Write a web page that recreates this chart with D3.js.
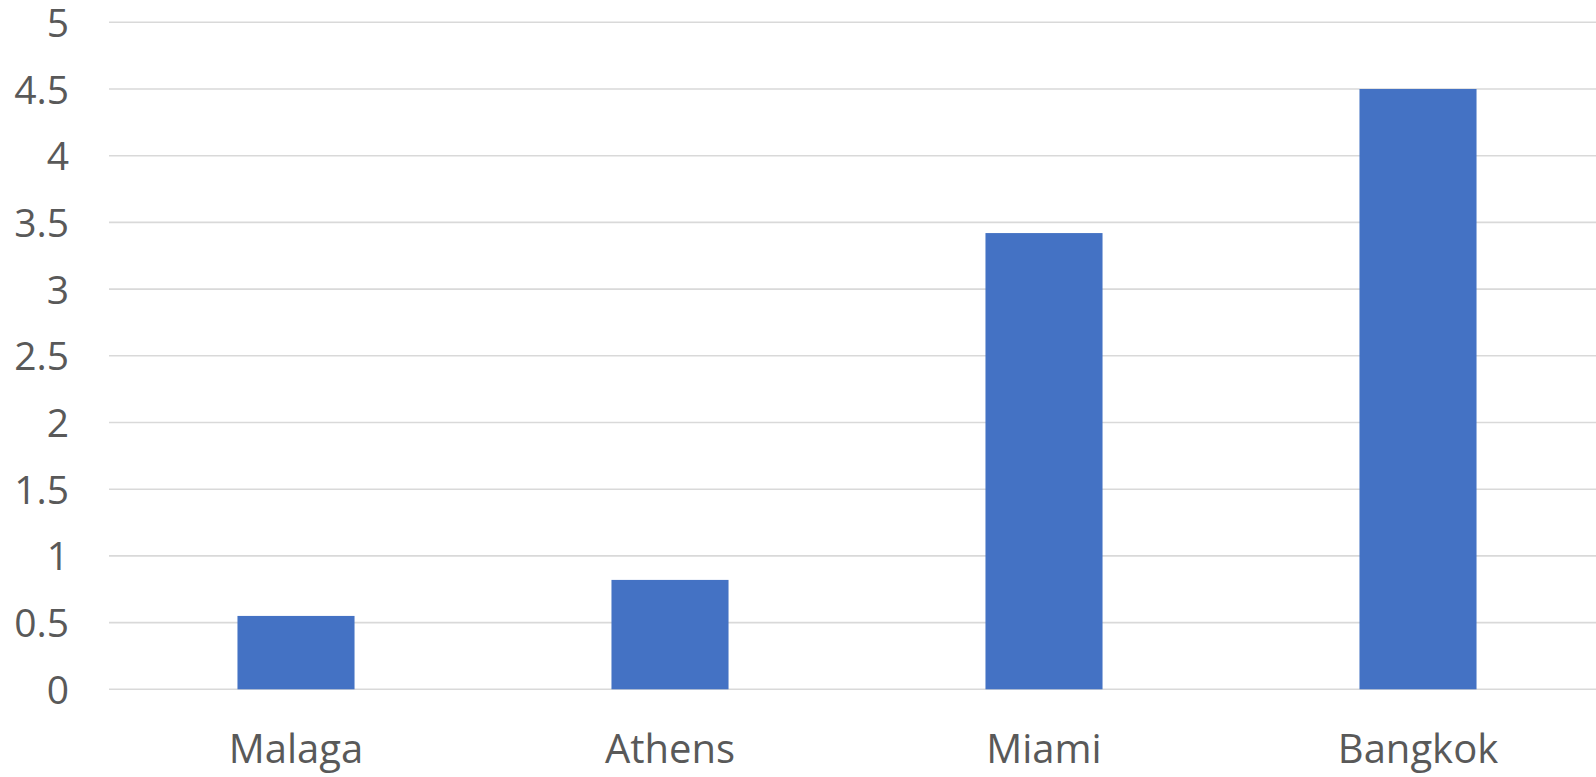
<!DOCTYPE html>
<html>
<head>
<meta charset="utf-8">
<script src="https://cdn.jsdelivr.net/npm/d3@7"></script>
<style>
  html, body { margin: 0; padding: 0; background: #fff; overflow: hidden; }
  svg { display: block; }
  text { font-family: "Open Sans", "Noto Sans", sans-serif; fill: #595959; }
</style>
</head>
<body>
<svg id="chart" width="1596" height="777"></svg>
<script>
// Chart data
const cities = ["Malaga", "Athens", "Miami", "Bangkok"];
const values = [0.55, 0.82, 3.42, 4.5];
const yTicks = [0, 0.5, 1, 1.5, 2, 2.5, 3, 3.5, 4, 4.5, 5];

const W = 1596, H = 777;
const plot = { left: 109, right: 1605, top: 22.3, bottom: 689.3 };

const svg = d3.select("#chart");

const x = d3.scaleBand()
  .domain(cities)
  .range([plot.left, plot.right])
  .paddingInner(0.687)
  .paddingOuter(0.3435);

const y = d3.scaleLinear()
  .domain([0, 5])
  .range([plot.bottom, plot.top]);

// Horizontal gridlines
svg.append("g")
  .selectAll("line")
  .data(yTicks)
  .join("line")
  .attr("x1", plot.left)
  .attr("x2", plot.right)
  .attr("y1", d => y(d))
  .attr("y2", d => y(d))
  .attr("stroke", "#d9d9d9")
  .attr("stroke-width", 1.6);

// Y axis labels
const yAxis = d3.axisLeft(y).tickValues(yTicks).tickSize(0).tickPadding(0)
  .tickFormat(d3.format("~g"));
svg.append("g")
  .attr("transform", `translate(69,0)`)
  .call(yAxis)
  .call(g => g.select(".domain").remove())
  .call(g => g.selectAll("text")
    .attr("font-size", 39)
    .attr("fill", "#595959")
    .attr("font-family", "'Open Sans', 'Noto Sans', sans-serif")
    .attr("dy", "0.36em"));

// Bars
svg.append("g")
  .selectAll("rect")
  .data(cities.map((c, i) => ({ c, v: values[i] })))
  .join("rect")
  .attr("x", d => x(d.c))
  .attr("width", x.bandwidth())
  .attr("y", d => y(d.v))
  .attr("height", d => y(0) - y(d.v))
  .attr("fill", "#4472c4");

// X axis labels
const xAxis = d3.axisBottom(x).tickSize(0).tickPadding(0);
svg.append("g")
  .attr("transform", `translate(0,${plot.bottom})`)
  .call(xAxis)
  .call(g => g.select(".domain").remove())
  .call(g => g.selectAll("text")
    .attr("font-size", 40)
    .attr("fill", "#595959")
    .attr("font-family", "'Open Sans', 'Noto Sans', sans-serif")
    .attr("y", 74)
    .attr("dy", 0));
</script>
</body>
</html>
